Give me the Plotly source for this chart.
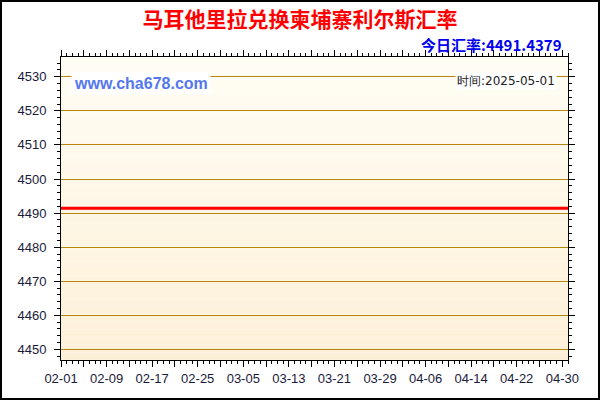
import pandas as pd
import plotly.graph_objects as go

# 데이터: 马耳他里拉 -> 柬埔寨利尔斯 (일별)
dates = pd.date_range("2025-02-01", "2025-05-01", freq="D")
rates = [
    4491.4379, 4491.4379, 4491.4379, 4491.4379, 4491.4379, 4491.4379, 4491.4379, 4491.4379, 4491.4379, 4491.4379,
    4491.4379, 4491.4379, 4491.4379, 4491.4379, 4491.4379, 4491.4379, 4491.4379, 4491.4379, 4491.4379, 4491.4379,
    4491.4379, 4491.4379, 4491.4379, 4491.4379, 4491.4379, 4491.4379, 4491.4379, 4491.4379, 4491.4379, 4491.4379,
    4491.4379, 4491.4379, 4491.4379, 4491.4379, 4491.4379, 4491.4379, 4491.4379, 4491.4379, 4491.4379, 4491.4379,
    4491.4379, 4491.4379, 4491.4379, 4491.4379, 4491.4379, 4491.4379, 4491.4379, 4491.4379, 4491.4379, 4491.4379,
    4491.4379, 4491.4379, 4491.4379, 4491.4379, 4491.4379, 4491.4379, 4491.4379, 4491.4379, 4491.4379, 4491.4379,
    4491.4379, 4491.4379, 4491.4379, 4491.4379, 4491.4379, 4491.4379, 4491.4379, 4491.4379, 4491.4379, 4491.4379,
    4491.4379, 4491.4379, 4491.4379, 4491.4379, 4491.4379, 4491.4379, 4491.4379, 4491.4379, 4491.4379, 4491.4379,
    4491.4379, 4491.4379, 4491.4379, 4491.4379, 4491.4379, 4491.4379, 4491.4379, 4491.4379, 4491.4379, 4491.4379,
]

title = "马耳他里拉兑换柬埔寨利尔斯汇率"
today_rate = "今日汇率:4491.4379"
update_time = "时间:2025-05-01"
site = "www.cha678.com"

# x축 눈금 (4일 간격, 라벨은 8일 간격)
tick_dates = pd.date_range("2025-02-01", "2025-05-01", freq="4D")
tick_text = [d.strftime("%m-%d") if i % 2 == 0 else "" for i, d in enumerate(tick_dates)]
y_ticks = [4450, 4460, 4470, 4480, 4490, 4500, 4510, 4520, 4530]

fig = go.Figure()

fig.add_trace(go.Scatter(
    x=dates, y=rates, mode="lines",
    line=dict(color="#FF0000", width=3),
    showlegend=False, hoverinfo="x+y"
))

# 배경 그라데이션 (위: 거의 흰색 -> 아래: 크림색)
shapes = []
n_bands = 40
top = (255, 253, 244)
bot = (253, 240, 216)
for i in range(n_bands):
    t = i / (n_bands - 1)
    c = tuple(round(top[k] + (bot[k] - top[k]) * t) for k in range(3))
    shapes.append(dict(
        type="rect", xref="paper", yref="paper",
        x0=0, x1=1, y0=1 - (i + 1) / n_bands, y1=1 - i / n_bands,
        fillcolor="rgb(%d,%d,%d)" % c, line=dict(width=0), layer="below"
    ))

# 바깥 테두리
W, H = 600, 400
ml, mr, mt, mb = 61, 32, 57, 40
pw, ph = W - ml - mr, H - mt - mb
shapes.append(dict(
    type="rect", xref="paper", yref="paper",
    x0=(-ml + 1) / pw, x1=1 + (mr - 1) / pw,
    y0=(-mb + 1) / ph, y1=1 + (mt - 1) / ph,
    line=dict(color="black", width=2), fillcolor="rgba(0,0,0,0)", layer="above"
))

fig.update_layout(
    width=W, height=H,
    margin=dict(l=ml, r=mr, t=mt, b=mb),
    paper_bgcolor="white",
    plot_bgcolor="rgba(0,0,0,0)",
    shapes=shapes,
    font=dict(family="Liberation Sans, Arial", size=13, color="#1a1a3a"),
    title=dict(
        text="<b>%s</b>" % title, x=0.5, xanchor="center",
        y=1 - 20 / H, yanchor="middle", yref="container",
        font=dict(family="Noto Sans CJK SC", size=21, color="#FF0000")
    ),
    annotations=[
        dict(text="<b>%s</b>" % today_rate, xref="paper", yref="paper",
             x=(564 - ml) / pw, y=1 + 13 / ph, xanchor="right", yanchor="middle",
             showarrow=False, font=dict(family="Noto Sans CJK SC", size=15, color="#0000EE")),
        dict(text="<b>%s</b>" % site, xref="paper", yref="paper",
             x=(71 - ml) / pw, y=1 - 27 / ph, xanchor="left", yanchor="middle",
             showarrow=False, bgcolor="white", borderpad=2,
             font=dict(family="Liberation Sans, Arial", size=16, color="#5577EE")),
        dict(text=update_time, xref="paper", yref="paper",
             x=(557 - ml) / pw, y=1 - 24 / ph, xanchor="right", yanchor="middle",
             showarrow=False, bgcolor="white", borderpad=1,
             font=dict(family="DejaVu Sans", size=12, color="#222222")),
    ],
)

fig.update_xaxes(
    range=["2025-02-01", "2025-05-01"],
    tickvals=tick_dates, ticktext=tick_text,
    ticks="outside", ticklen=6, tickcolor="black", tickwidth=1,
    showline=True, linecolor="black", linewidth=1, mirror="ticks",
    showgrid=False, zeroline=False,
    tickfont=dict(size=13),
    minor=dict(dtick=86400000, tick0="2025-02-01", ticks="outside", ticklen=3,
               tickcolor="black", showgrid=False),
)

fig.update_yaxes(
    range=[4446.9, 4535.8],
    tickvals=y_ticks,
    ticks="outside", ticklen=6, tickcolor="black", tickwidth=1,
    showline=True, linecolor="black", linewidth=1, mirror="ticks",
    showgrid=True, gridcolor="#B8860B", gridwidth=1, zeroline=False,
    tickfont=dict(size=13), ticklabelstandoff=5,
    minor=dict(dtick=2, ticks="outside", ticklen=3, tickcolor="black", showgrid=False),
)

# body 기본 여백 제거, 모드바 숨김
fig.write_html("out.html", config={"displayModeBar": False},
               post_script="document.body.style.margin='0';")
